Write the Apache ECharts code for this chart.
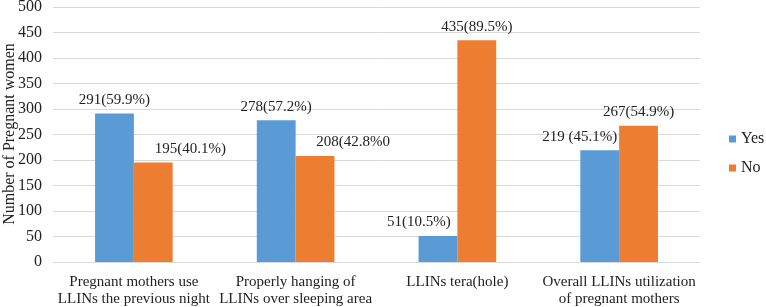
<!DOCTYPE html>
<html>
<head>
<meta charset="utf-8">
<script src="https://cdn.jsdelivr.net/npm/echarts@6/dist/echarts.min.js"></script>
<style>html,body{margin:0;padding:0;background:#fff}#c{width:766px;height:307px}</style>
</head>
<body>
<div id="c"></div>
<script>
var categories = [
  "Pregnant mothers use\nLLINs the previous night",
  "Properly hanging of\nLLINs over sleeping area",
  "LLINs tera(hole)",
  "Overall LLINs utilization\nof pregnant mothers"
];
var yesValues = [291, 278, 51, 219];
var noValues = [195, 208, 435, 267];
var yesLabels = ["291(59.9%)", "278(57.2%)", "51(10.5%)", "219 (45.1%)"];
var noLabels = ["195(40.1%)", "208(42.8%0", "435(89.5%)", "267(54.9%)"];
var seriesNames = ["Yes", "No"];
var yAxisTitle = "Number of Pregnant women";
var yTicks = {min: 0, max: 500, interval: 50};

var yesOffsets = [[0,0],[0,0],[-19,0],[-20,0]];
var noOffsets = [[37,0],[38,0],[0,0],[0,0]];
var font = "'Liberation Serif','Times New Roman',serif";

function build(vals, labels, offs) {
  return vals.map(function(v, i){
    return {value: v, label: {formatter: labels[i], offset: offs[i]}};
  });
}

var chart = echarts.init(document.getElementById('c'));
chart.setOption({
  animation: false,
  textStyle: {fontFamily: font},
  grid: {left: 53, right: 66, top: 7, bottom: 45, containLabel: false, outerBoundsMode: 'none'},
  graphic: [{
    type: 'text', x: 10, y: 134, rotation: Math.PI / 2,
    style: {text: yAxisTitle, font: '16px ' + font, fill: '#222', align: 'center', verticalAlign: 'middle'}
  }],
  legend: {
    orient: 'vertical', left: 724, top: 126,
    itemWidth: 7, itemHeight: 7, itemGap: 13,
    icon: 'rect',
    textStyle: {fontFamily: font, fontSize: 16, color: '#222'},
    data: seriesNames
  },
  xAxis: {
    type: 'category', data: categories,
    axisTick: {show: false},
    axisLine: {lineStyle: {color: '#d9d9d9'}},
    axisLabel: {fontFamily: font, fontSize: 15, color: '#222', lineHeight: 17, margin: 12, interval: 0}
  },
  yAxis: {
    type: 'value', min: yTicks.min, max: yTicks.max, interval: yTicks.interval,
    axisLine: {show: false}, axisTick: {show: false},
    axisLabel: {fontFamily: font, fontSize: 16, color: '#222', margin: 11},
    splitLine: {lineStyle: {color: '#d9d9d9', width: 1}}
  },
  series: [
    {name: seriesNames[0], type: 'bar', barWidth: '24%', barGap: '0%',
     itemStyle: {color: '#5B9BD5'},
     label: {show: true, position: 'top', distance: 6, fontFamily: font, fontSize: 15, color: '#222'},
     data: build(yesValues, yesLabels, yesOffsets)},
    {name: seriesNames[1], type: 'bar', barWidth: '24%', barGap: '0%',
     itemStyle: {color: '#ED7D31'},
     label: {show: true, position: 'top', distance: 6, fontFamily: font, fontSize: 15, color: '#222'},
     data: build(noValues, noLabels, noOffsets)}
  ]
});
</script>
</body>
</html>
